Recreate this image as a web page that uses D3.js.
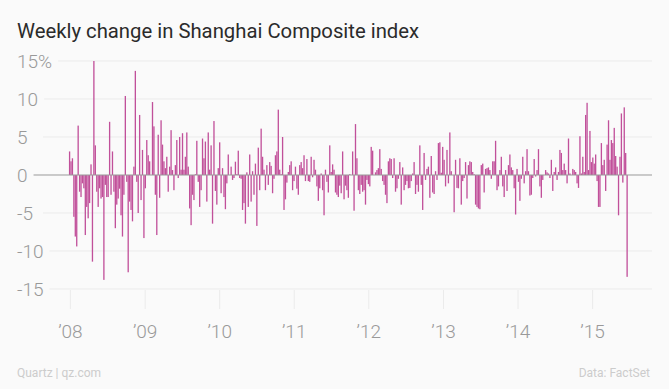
<!DOCTYPE html>
<html>
<head>
<meta charset="utf-8">
<script src="https://cdn.jsdelivr.net/npm/d3@7"></script>
<style>
  body { margin: 0; background: #fafafa; }
  svg { display: block; font-family: Roboto, "Liberation Sans", sans-serif; }
</style>
</head>
<body>
<svg id="chart" width="669" height="389"></svg>
<script>
// Weekly % change of the Shanghai Composite, one value per week (weeks ending Friday)
var firstWeek = new Date(2007, 11, 28);

var chg2007 = [3.1];
var chg2008 = [1.8, 2.2, -5.5, -8.1, -9.4, 6.5, -2.2, -2.9, -1.1, -1.75,
  -7.9, -4.2, -5.7, -3.7, 1.4, -11.4, 15.0, 3.9, -2.2, -4.2,
  -1.75, -3.1, -2.9, -13.8, -1.3, -2.9, -2.9, 7.0, -2.6, 3.1,
  -2.2, -7.0, -3.9, -3.1, -1.8, -5.3, -8.1, -2.6, 10.4, -0.9,
  -12.8, -3.5, -4.6, -6.1, 1.1, 13.7, -0.9, -5.0, 7.9, -3.3,
  3.3, -8.3];
var chg2009 = [-1.75, 4.6, 2.6, 1.8, 0, 9.6, 6.4, -2.6, -7.9, 5.3,
  -3.0, 7.2, 4.0, 1.8, 0.9, 2.4, -2.2, 1.1, 5.9, 0.65,
  -2.0, 1.3, 4.6, -0.4, 5.0, 0.7, 5.5, 0.7, 2.4, 5.6,
  1.1, -4.4, -6.6, -2.6, -3.3, 0.1, 4.5, -0.9, -4.2, -2.0,
  4.8, 2.2, 4.4, -3.5, 5.6, 0.7, 3.9, -6.4, 7.1, -2.1,
  -3.9, 0.9];
var chg2010 = [4.3, -2.4, 0.9, -2.9, -4.5, -1.1, 2.7, 0, 1.1, -0.65,
  -0.4, 1.75, 0.1, 3.2, -0.4, -0.5, -4.6, -3.7, -6.4, 0.35,
  -4.2, 2.7, -3.5, 0.5, -2.6, 1.5, -6.7, 3.6, -2.0, 6.1,
  2.4, 0.7, -2.0, 1.3, -1.3, 1.7, 1.2, -2.4, -0.5, 2.6,
  3.1, 8.6, 0.7, 0.1, 5.0, -4.6, -3.2, -1.0, 0.4, 1.3,
  1.8, -2.0, -0.8];
var chg2011 = [1.1, -1.8, -2.6, 1.3, 1.7, 0.9, 2.6, -0.8, 2.1, -0.8,
  -0.9, 2.4, -0.3, 2.0, 0.7, -1.5, -3.4, -1.75, 0.2, -2.0,
  -5.3, 0.7, -0.9, -2.3, 3.9, 0.4, 1.4, 0.7, -2.3, -2.6,
  -2.9, -1.4, -2.4, 3.1, -3.2, -1.4, -2.0, -3.0, 0.1, 0,
  3.1, -4.7, 6.7, 2.2, -2.0, -2.5, -1.3, -2.2, -2.0, -3.9,
  -0.65, -1.2];
var chg2012 = [-1.5, 3.7, 3.2, 0, 0.35, 0.65, 0.9, 3.4, 0.8, -0.8,
  -1.3, -2.6, -3.7, 1.8, 2.2, 2.1, -0.4, 2.2, -2.2, -1.75,
  -0.5, 1.7, -3.9, 1.0, -2.0, -1.3, -0.8, -1.75, -1.7, -0.8,
  0.2, 1.7, -2.5, -1.3, -2.2, 3.9, -1.3, -4.6, 2.9, -0.65,
  0.8, 1.1, -3.0, 2.5, -2.3, -2.5, 0.5, -0.65, 4.2, 4.3,
  0.3, 3.7];
var chg2013 = [2.0, -1.5, 3.3, -1.1, 5.6, 0.5, 0, -4.9, 2.0, -1.7,
  -1.75, 2.2, -3.9, -0.8, -0.4, 1.7, -3.1, 1.3, 1.8, 1.7,
  0.4, 0.1, -3.9, -4.2, -4.4, -4.5, 1.3, 1.5, -2.3, 0.8,
  0.9, 1.0, 0.65, -0.5, 1.8, 1.8, 4.5, -2.0, -1.5, 0.65,
  2.4, -1.5, -2.9, 0.65, -2.1, 1.3, 2.7, 1.0, 0.65, -1.75,
  -5.2, 0.8];
var chg2014 = [-0.9, -3.4, -0.5, 2.4, -1.1, 0.5, 3.4, 0.5, -2.7, -2.6,
  -0.4, 2.1, -0.2, 0.65, 3.4, -1.5, -3.0, -0.65, 0, 0.65,
  0.35, 0.2, -0.4, 2.0, -2.1, 0.4, 1.0, -0.65, 0.4, 3.3,
  2.9, 0.65, 1.5, 0.65, -1.1, 4.8, 0.2, 0, 0.8, 0.65,
  0.4, -1.1, -1.7, 5.1, 0.2, 2.4, 0.4, 7.9, 9.5, 0.65,
  5.8, 1.7];
var chg2015 = [2.3, 1.5, 2.7, -0.8, -4.2, -4.2, 4.2, 1.3, 2.0, -2.1,
  4.0, 7.2, 2.0, 4.6, 4.2, 6.2, 2.5, 1.1, -5.3, 2.4,
  8.1, -1.0, 8.9, 2.9, -13.4];

var yTicks = [15, 10, 5, 0, -5, -10, -15];
var xTickYears = [2008, 2009, 2010, 2011, 2012, 2013, 2014, 2015];

var title = "Weekly change in Shanghai Composite index";
var credit = "Quartz | qz.com";
var source = "Data: FactSet";

var barColor = "#c1509a";

var values = [].concat(chg2007, chg2008, chg2009, chg2010, chg2011, chg2012, chg2013, chg2014, chg2015);
var data = values.map(function (v, i) {
  return { date: d3.timeDay.offset(firstWeek, 7 * i), value: v };
});

var svg = d3.select("#chart");
var width = 669, height = 389;

svg.append("rect").attr("width", width).attr("height", height).attr("fill", "#fafafa");

var x = d3.scaleTime()
  .domain([new Date(2008, 0, 1), new Date(2015, 0, 1)])
  .range([70.4, 592.6]);

var y = d3.scaleLinear()
  .domain([-15, 15])
  .range([289, 61]);

var gridLeft = 43, gridRight = 652;

// title
svg.append("text")
  .attr("x", 17)
  .attr("y", 38)
  .attr("fill", "#2b2b2b")
  .style("font-size", "20.3px")
  .text(title);

// horizontal grid
svg.append("g")
  .selectAll("line")
  .data(yTicks.filter(function (d) { return d !== 0; }))
  .enter().append("line")
  .attr("x1", gridLeft)
  .attr("x2", gridRight)
  .attr("y1", function (d) { return y(d); })
  .attr("y2", function (d) { return y(d); })
  .attr("stroke", "#ebebeb")
  .attr("stroke-width", 1);

// year ticks
svg.append("g")
  .selectAll("line")
  .data(xTickYears)
  .enter().append("line")
  .attr("x1", function (d) { return x(new Date(d, 0, 1)); })
  .attr("x2", function (d) { return x(new Date(d, 0, 1)); })
  .attr("y1", 290)
  .attr("y2", 309)
  .attr("stroke", "#ebebeb");

// bars
var step = x(d3.timeDay.offset(firstWeek, 7)) - x(firstWeek);
var bw = step * 0.92;
svg.append("g")
  .selectAll("rect")
  .data(data)
  .enter().append("rect")
  .attr("x", function (d) { return x(d.date) - bw / 2; })
  .attr("width", bw)
  .attr("y", function (d) { return y(Math.max(0, d.value)); })
  .attr("height", function (d) { return Math.abs(y(d.value) - y(0)); })
  .attr("fill", barColor);

// zero line
svg.append("line")
  .attr("x1", 17)
  .attr("x2", gridRight)
  .attr("y1", y(0))
  .attr("y2", y(0))
  .attr("stroke", "#999")
  .attr("stroke-width", 1);

// y labels with a background patch so the lines stop short of them
var yLab = svg.append("g").selectAll("g")
  .data(yTicks)
  .enter().append("g");

yLab.append("rect").attr("class", "bg").attr("fill", "#fafafa");
yLab.append("text")
  .attr("x", 17)
  .attr("y", function (d) { return y(d); })
  .attr("dy", "0.36em")
  .attr("fill", "#999")
  .style("font-size", "19px")
  .style("font-weight", 300)
  .text(function (d) { return d === 15 ? "15%" : d; });

yLab.each(function () {
  var g = d3.select(this);
  var b = g.select("text").node().getBBox();
  g.select("rect.bg")
    .attr("x", b.x)
    .attr("y", b.y)
    .attr("width", b.width + 6)
    .attr("height", b.height);
});

// x labels
svg.append("g")
  .selectAll("text")
  .data(xTickYears)
  .enter().append("text")
  .attr("x", function (d) { return x(new Date(d, 0, 1)); })
  .attr("y", 338)
  .attr("text-anchor", "middle")
  .attr("fill", "#999")
  .style("font-size", "19px")
  .style("font-weight", 300)
  .text(function (d) { return "\u2019" + String(d).slice(2); });

// footer
svg.append("text")
  .attr("x", 17)
  .attr("y", 377)
  .attr("fill", "#cccccc")
  .style("font-size", "12px")
  .text(credit);

svg.append("text")
  .attr("x", 650)
  .attr("y", 377)
  .attr("text-anchor", "end")
  .attr("fill", "#cccccc")
  .style("font-size", "12px")
  .text(source);
</script>
</body>
</html>
